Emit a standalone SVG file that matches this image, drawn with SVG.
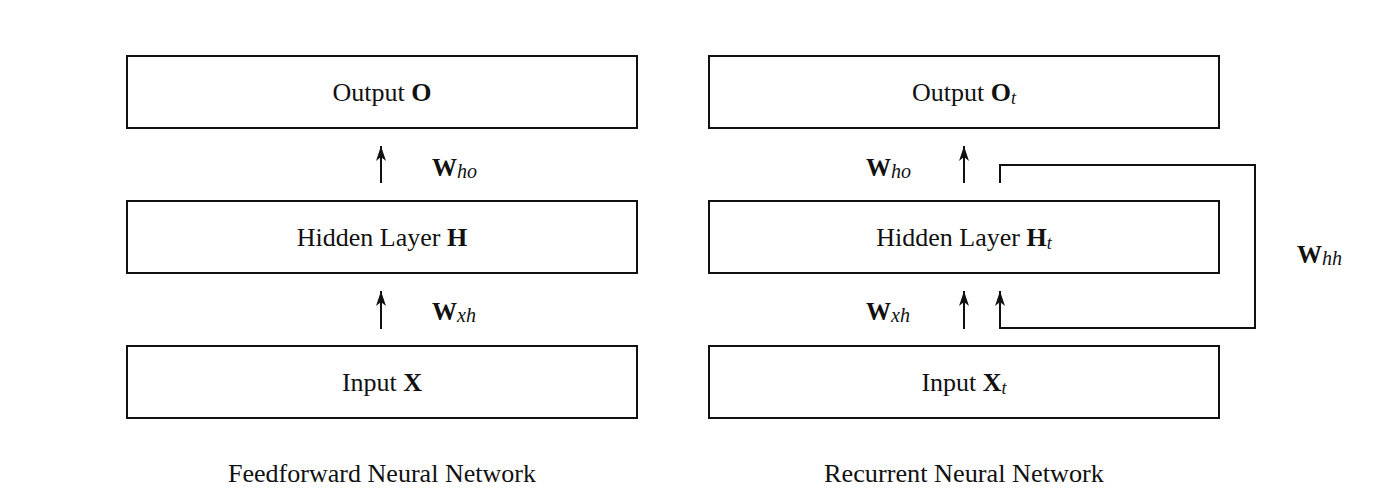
<svg xmlns="http://www.w3.org/2000/svg" width="1391" height="501" viewBox="0 0 1391 501">
<style>
.box{fill:#fff;stroke:#111;stroke-width:2}
.lbl{font-family:"Liberation Serif","Times New Roman",serif;font-size:26px;fill:#111;text-anchor:middle}
.w{font-family:"Liberation Serif","Times New Roman",serif;font-size:25px;fill:#111}
.b{font-weight:bold}
.i{font-style:italic}
.cap{font-family:"Liberation Serif","Times New Roman",serif;font-size:25px;fill:#111;text-anchor:middle}
.ln{fill:none;stroke:#111;stroke-width:2}
</style>
<defs>
<marker id="ah" markerUnits="userSpaceOnUse" viewBox="0 0 15 10" refX="15" refY="5" markerWidth="15" markerHeight="10" orient="auto">
<path d="M0,0 L15,5 L0,10 L4,5 Z" fill="#111"/>
</marker>
</defs>
<rect width="1391" height="501" fill="#fff"/>

<g id="ff-output"><rect class="box" x="127" y="56" width="510" height="72"/><text class="lbl" x="382" y="101">Output <tspan class="b">O</tspan></text></g>
<g id="ff-hidden"><rect class="box" x="127" y="201" width="510" height="72"/><text class="lbl" x="382" y="246">Hidden Layer <tspan class="b">H</tspan></text></g>
<g id="ff-input"><rect class="box" x="127" y="346" width="510" height="72"/><text class="lbl" x="382" y="391">Input <tspan class="b">X</tspan></text></g>

<g id="rnn-output"><rect class="box" x="709" y="56" width="510" height="72"/><text class="lbl" x="964" y="101">Output <tspan class="b">O</tspan><tspan class="i" font-size="18" dy="3">t</tspan></text></g>
<g id="rnn-hidden"><rect class="box" x="709" y="201" width="510" height="72"/><text class="lbl" x="964" y="246">Hidden Layer <tspan class="b">H</tspan><tspan class="i" font-size="18" dy="3">t</tspan></text></g>
<g id="rnn-input"><rect class="box" x="709" y="346" width="510" height="72"/><text class="lbl" x="964" y="391">Input <tspan class="b">X</tspan><tspan class="i" font-size="18" dy="3">t</tspan></text></g>

<g id="connectors">
<line class="ln" x1="381" y1="183" x2="381" y2="146" marker-end="url(#ah)"/>
<line class="ln" x1="381" y1="329" x2="381" y2="291" marker-end="url(#ah)"/>
<line class="ln" x1="964" y1="183" x2="964" y2="146" marker-end="url(#ah)"/>
<line class="ln" x1="964" y1="329" x2="964" y2="291" marker-end="url(#ah)"/>
<polyline class="ln" points="1000,183 1000,165 1255,165 1255,328 1000,328 1000,291" marker-end="url(#ah)"/>
</g>

<g id="weights">
<text class="w" x="432" y="176"><tspan class="b">W</tspan><tspan class="i" font-size="20" dy="2">ho</tspan></text>
<text class="w" x="432" y="320"><tspan class="b">W</tspan><tspan class="i" font-size="20" dy="2">xh</tspan></text>
<text class="w" x="866" y="176"><tspan class="b">W</tspan><tspan class="i" font-size="20" dy="2">ho</tspan></text>
<text class="w" x="866" y="320"><tspan class="b">W</tspan><tspan class="i" font-size="20" dy="2">xh</tspan></text>
<text class="w" x="1297" y="263"><tspan class="b">W</tspan><tspan class="i" font-size="20" dy="2">hh</tspan></text>
</g>

<g id="captions">
<text class="cap" x="382" y="482" textLength="308" lengthAdjust="spacingAndGlyphs">Feedforward Neural Network</text>
<text class="cap" x="964" y="482" textLength="280" lengthAdjust="spacingAndGlyphs">Recurrent Neural Network</text>
</g>
</svg>
